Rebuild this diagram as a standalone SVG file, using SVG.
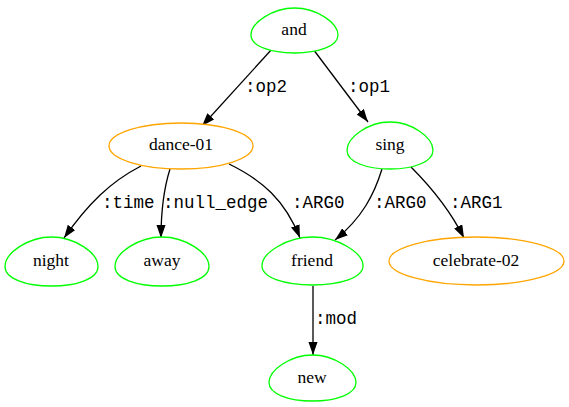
<svg xmlns="http://www.w3.org/2000/svg" width="569" height="407" viewBox="0 0 569 407">
<style>
.egg{fill:#fff;stroke:#00ff00;stroke-width:1.3;vector-effect:non-scaling-stroke}
.ell{fill:#fff;stroke:#ffa500;stroke-width:1.3}
.nl{font-family:"Liberation Serif","Times New Roman","DejaVu Serif",serif;font-size:17.5px;text-anchor:middle;fill:#000}
.el{font-family:"Liberation Mono","Courier New",monospace;font-size:17.5px;fill:#000}
.edge{fill:none;stroke:#000;stroke-width:1.3;marker-end:url(#arr)}
</style>
<defs>
<marker id="arr" viewBox="0 0 10 7" refX="10" refY="3.5" markerWidth="13" markerHeight="9.1" markerUnits="userSpaceOnUse" orient="auto">
<path d="M0,0 L10,3.5 L0,7 Z" fill="#000"/>
</marker>
</defs>
<g id="edges">
<path class="edge" d="M272,49 L202,126"/>
<path class="edge" d="M313,49 L368,122"/>
<path class="edge" d="M141,166 C110,182 88,204 64,238"/>
<path class="edge" d="M170,169 C164,188 161,210 161,238"/>
<path class="edge" d="M229,164 C262,180 285,200 300,238"/>
<path class="edge" d="M382,169 C374,195 362,218 335,240"/>
<path class="edge" d="M411,167 C432,188 450,210 464,238"/>
<path class="edge" d="M313,286 L313,355"/>
<text class="el" x="245" y="92">:op2</text>
<text class="el" x="348" y="92">:op1</text>
<text class="el" x="102" y="208">:time</text>
<text class="el" x="163" y="208">:null_edge</text>
<text class="el" x="292" y="208">:ARG0</text>
<text class="el" x="374" y="208">:ARG0</text>
<text class="el" x="450" y="208">:ARG1</text>
<text class="el" x="315" y="324">:mod</text>
</g>
<g id="and">
<path class="egg" transform="translate(294.5,30.5) scale(43.5,22.5)" d="M0,-1 C0.5,-1 1,-0.35 1,0.2 C1,0.7 0.55,1 0,1 C-0.55,1 -1,0.7 -1,0.2 C-1,-0.35 -0.5,-1 0,-1Z"/>
<text class="nl" x="294" y="35">and</text>
</g>
<g id="dance-01">
<ellipse class="ell" cx="181" cy="146" rx="72" ry="23"/>
<text class="nl" x="181" y="150">dance-01</text>
</g>
<g id="sing">
<path class="egg" transform="translate(390,145.5) scale(43,23.5)" d="M0,-1 C0.5,-1 1,-0.35 1,0.2 C1,0.7 0.55,1 0,1 C-0.55,1 -1,0.7 -1,0.2 C-1,-0.35 -0.5,-1 0,-1Z"/>
<text class="nl" x="390" y="150">sing</text>
</g>
<g id="night">
<path class="egg" transform="translate(51.5,261.5) scale(46.5,24.5)" d="M0,-1 C0.5,-1 1,-0.35 1,0.2 C1,0.7 0.55,1 0,1 C-0.55,1 -1,0.7 -1,0.2 C-1,-0.35 -0.5,-1 0,-1Z"/>
<text class="nl" x="51" y="266">night</text>
</g>
<g id="away">
<path class="egg" transform="translate(162,261.5) scale(47,24.5)" d="M0,-1 C0.5,-1 1,-0.35 1,0.2 C1,0.7 0.55,1 0,1 C-0.55,1 -1,0.7 -1,0.2 C-1,-0.35 -0.5,-1 0,-1Z"/>
<text class="nl" x="162" y="266">away</text>
</g>
<g id="friend">
<path class="egg" transform="translate(312.5,261) scale(50.5,24)" d="M0,-1 C0.5,-1 1,-0.35 1,0.2 C1,0.7 0.55,1 0,1 C-0.55,1 -1,0.7 -1,0.2 C-1,-0.35 -0.5,-1 0,-1Z"/>
<text class="nl" x="312" y="266">friend</text>
</g>
<g id="celebrate-02">
<ellipse class="ell" cx="476.5" cy="261" rx="87.5" ry="24"/>
<text class="nl" x="476" y="266">celebrate-02</text>
</g>
<g id="new">
<path class="egg" transform="translate(312.5,378) scale(43.5,23)" d="M0,-1 C0.5,-1 1,-0.35 1,0.2 C1,0.7 0.55,1 0,1 C-0.55,1 -1,0.7 -1,0.2 C-1,-0.35 -0.5,-1 0,-1Z"/>
<text class="nl" x="312" y="383">new</text>
</g>
</svg>
